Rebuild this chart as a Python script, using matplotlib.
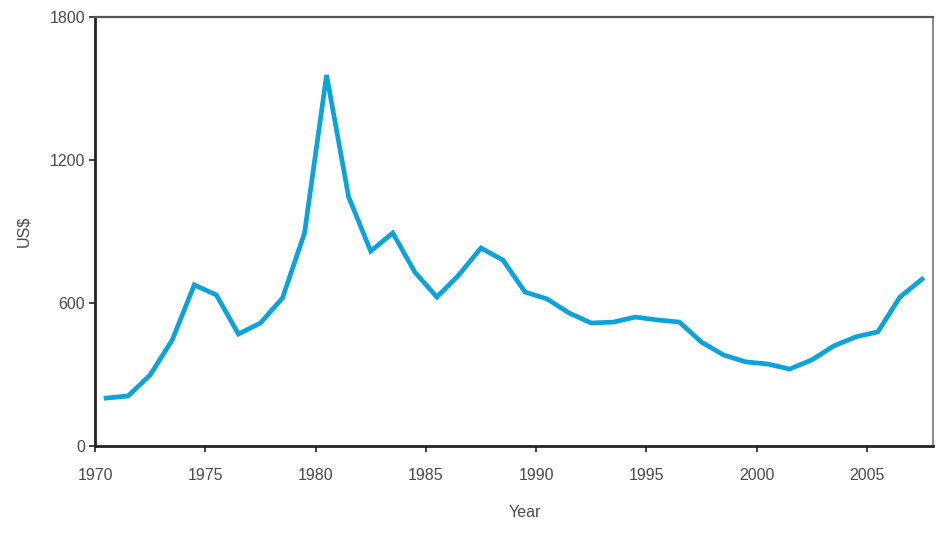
import matplotlib
matplotlib.use("Agg")
import matplotlib.pyplot as plt

# mid-year points, 1970-2007
years = [y + 0.5 for y in range(1970, 2008)]
usd = [201, 210, 298, 445, 676, 634, 470, 516, 621, 894,
       1557, 1045, 818, 894, 730, 625, 718, 831, 780, 646,
       617, 558, 516, 520, 541, 529, 520, 436, 382, 353,
       344, 323, 361, 420, 458, 479, 625, 700]

xticks = [1970, 1975, 1980, 1985, 1990, 1995, 2000, 2005]
yticks = [0, 600, 1200, 1800]

plt.rcParams['font.family'] = ['Liberation Sans', 'DejaVu Sans']

fig = plt.figure(figsize=(9.41, 5.35), dpi=100)
ax = fig.add_axes([0.101, 0.1664, 0.8905, 0.8016])

ax.plot(years, usd, color='#0ba3da', linewidth=3.4, solid_joinstyle='miter')

ax.set_xlim(1970, 2008)
ax.set_ylim(0, 1800)
ax.set_xticks(xticks)
ax.set_yticks(yticks)

txt = '#4a4a4a'
ax.tick_params(axis='x', direction='out', length=4, width=1.2, pad=12,
               labelsize=11.5, labelcolor=txt, color='#222222')
ax.tick_params(axis='y', direction='out', length=4, width=1.2, pad=3,
               labelsize=11.5, labelcolor=txt, color='#222222')

ax.spines['left'].set_color('#222222')
ax.spines['bottom'].set_color('#222222')
ax.spines['left'].set_linewidth(2)
ax.spines['bottom'].set_linewidth(2)
ax.spines['top'].set_color('#555555')
ax.spines['top'].set_linewidth(1.6)
ax.spines['right'].set_color('#888888')
ax.spines['right'].set_linewidth(1.4)

ax.set_xlabel('Year', fontsize=11.5, color=txt, labelpad=16, x=0.513)
ax.set_ylabel('US$', fontsize=11.5, color=txt, labelpad=13)

fig.savefig('out.png', dpi=100)
